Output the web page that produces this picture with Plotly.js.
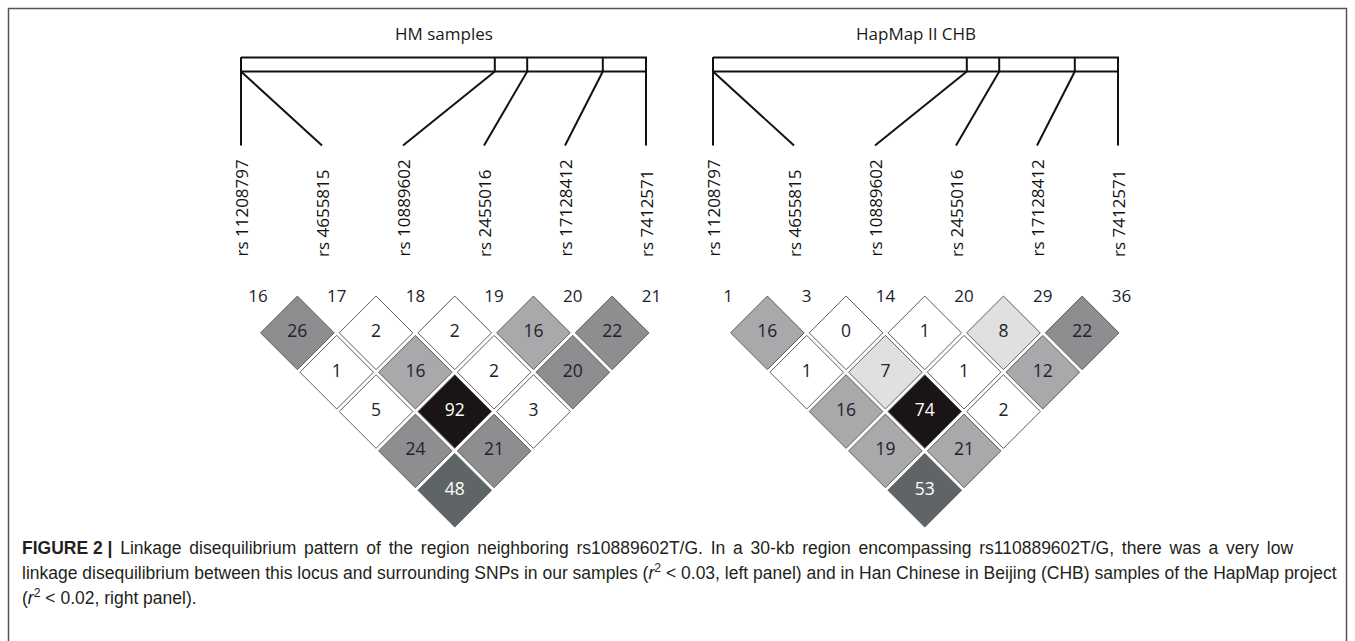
<!DOCTYPE html>
<html>
<head>
<meta charset="utf-8">
<script src="https://cdn.plot.ly/plotly-3.0.1.min.js"></script>
<style>
  html, body { margin: 0; padding: 0; background: #ffffff; }
  #chart { width: 1355px; height: 641px; }
</style>
</head>
<body>
<div id="chart"></div>
<script>
// ---- Data -------------------------------------------------------------
// SNPs in the 30-kb region around rs10889602, ordered by position
const snpIds = ['rs 11208797', 'rs 4655815', 'rs 10889602', 'rs 2455016', 'rs 17128412', 'rs 7412571'];
// physical position within the region, kb from the first SNP
const physPosKb = [0, 0, 18.8, 21.2, 26.8, 30.0];
// marker numbers printed above the LD triangle
const hmMarkerNums = [16, 17, 18, 19, 20, 21];
const chbMarkerNums = [1, 3, 14, 20, 29, 36];
// pairwise r^2 (x100); row d lists pairs (i, i+d) for i = 1..6-d
const hmR2 = [
  [26, 2, 2, 16, 22],
  [1, 16, 2, 20],
  [5, 92, 3],
  [24, 21],
  [48]
];
const chbR2 = [
  [16, 0, 1, 8, 22],
  [1, 7, 1, 12],
  [16, 74, 2],
  [19, 21],
  [53]
];
const panelTitles = ['HM samples', 'HapMap II CHB'];

// ---- Cell shading (Haploview-style grey bands) ------------------------
const SHADE = {
  white: '#ffffff', pale: '#e0e0e0', light: '#a9a9ab',
  mid: '#8e8e90', dark: '#5f6566', black: '#1b1416'
};
const hmShade = [
  ['mid', 'white', 'white', 'light', 'mid'],
  ['white', 'light', 'white', 'mid'],
  ['white', 'black', 'white'],
  ['mid', 'mid'],
  ['dark']
];
const chbShade = [
  ['light', 'white', 'white', 'pale', 'mid'],
  ['white', 'pale', 'white', 'light'],
  ['light', 'black', 'white'],
  ['light', 'light'],
  ['dark']
];

// ---- Page geometry ----------------------------------------------------
const W = 1355, H = 641;
const px = v => v / W;
const py = v => 1 - v / H;

const STEP = 78.7;        // px between neighbouring markers in the triangle
const ROW = STEP / 2;     // px per LD distance row
const TRI_TOP = 293.5;    // px of the triangle's top edge
const KB_PX = 13.5;       // px per kb on the physical-map bracket
const HDR = { title: 33, boxTop: 57.5, boxBot: 71.5, linkBot: 145.5, labelBot: 259 };
const CELL = 0.935;       // diamond size relative to its grid slot
const LABEL_FONT = 'Open Sans, Lato, sans-serif';

const panels = [
  { title: panelTitles[0], markers: hmMarkerNums, r2: hmR2, shade: hmShade,
    tx: 'x', hx: 'x2', firstMarkerPx: 258, mapLeftPx: 241 },
  { title: panelTitles[1], markers: chbMarkerNums, r2: chbR2, shade: chbShade,
    tx: 'x3', hx: 'x4', firstMarkerPx: 728, mapLeftPx: 713 }
];

const traces = [];
const annotations = [];
const layout = {
  width: W, height: H,
  margin: { l: 0, r: 0, t: 0, b: 0 },
  paper_bgcolor: '#ffffff',
  plot_bgcolor: 'rgba(0,0,0,0)',
  showlegend: false,
  hovermode: false,
  font: { family: LABEL_FONT, color: '#222222' }
};

const hiddenAxis = extra => Object.assign({
  visible: false, showgrid: false, zeroline: false, showticklabels: false, fixedrange: true
}, extra);

// shared vertical axes: y = LD distance rows, y2 = header rows (px)
layout.yaxis = hiddenAxis({ range: [6.5, -0.5], domain: [py(TRI_TOP + 6.5 * ROW), py(TRI_TOP - 0.5 * ROW)], anchor: 'x' });
layout.yaxis2 = hiddenAxis({ range: [H, 0], domain: [0, 1], anchor: 'x2' });

const nSnp = snpIds.length;
const spanKb = physPosKb[nSnp - 1] - physPosKb[0];
const lineStyle = { color: '#111111', width: 2 };

panels.forEach(p => {
  const txName = 'xaxis' + p.tx.slice(1);
  const hxName = 'xaxis' + p.hx.slice(1);
  // triangle axis: marker index 1..6
  layout[txName] = hiddenAxis({
    range: [0, 7],
    domain: [px(p.firstMarkerPx - STEP), px(p.firstMarkerPx + 6 * STEP)],
    anchor: 'y'
  });
  // header axis: kb
  layout[hxName] = hiddenAxis({
    range: [-2, spanKb + 2],
    domain: [px(p.mapLeftPx - 2 * KB_PX), px(p.mapLeftPx + (spanKb + 2) * KB_PX)],
    anchor: 'y2'
  });

  // --- physical map bracket
  const x0 = physPosKb[0], x1 = physPosKb[nSnp - 1];
  traces.push({
    type: 'scatter', mode: 'lines', xaxis: p.hx, yaxis: 'y2',
    x: [x0, x1, x1, x0, x0], y: [HDR.boxTop, HDR.boxTop, HDR.boxBot, HDR.boxBot, HDR.boxTop],
    line: lineStyle, hoverinfo: 'skip', cliponaxis: false
  });
  const dx = [], dy = [];
  physPosKb.forEach(pos => { dx.push(pos, pos, null); dy.push(HDR.boxTop, HDR.boxBot, null); });
  traces.push({
    type: 'scatter', mode: 'lines', xaxis: p.hx, yaxis: 'y2',
    x: dx, y: dy, line: lineStyle, hoverinfo: 'skip', cliponaxis: false
  });
  // connectors from map position to evenly spaced label slots
  const cx = [], cy = [];
  physPosKb.forEach((pos, k) => {
    const slot = x0 + k * spanKb / (nSnp - 1);
    cx.push(pos, slot, null); cy.push(HDR.boxBot, HDR.linkBot, null);
    annotations.push({
      xref: p.hx, yref: 'y2', x: slot, y: HDR.labelBot,
      text: snpIds[k], textangle: -90, showarrow: false,
      xanchor: 'center', yanchor: 'bottom',
      font: { family: LABEL_FONT, size: 17, color: '#111111' }
    });
  });
  traces.push({
    type: 'scatter', mode: 'lines', xaxis: p.hx, yaxis: 'y2',
    x: cx, y: cy, line: lineStyle, hoverinfo: 'skip', cliponaxis: false
  });
  annotations.push({
    xref: p.hx, yref: 'y2', x: (x0 + x1) / 2, y: HDR.title,
    text: p.title, showarrow: false, xanchor: 'center', yanchor: 'middle',
    font: { family: LABEL_FONT, size: 17, color: '#1a1a1a' }
  });

  // --- LD triangle cells
  const tx = [], ty = [], tt = [], tc = [];
  p.r2.forEach((row, di) => {
    const d = di + 1;
    row.forEach((val, k) => {
      const i = k + 1, j = i + d;
      const mx = (i + j) / 2, my = d;
      const hw = 0.5 * CELL, hh = 1 * CELL;
      const shadeKey = p.shade[di][k];
      traces.push({
        type: 'scatter', mode: 'lines', xaxis: p.tx, yaxis: 'y',
        x: [mx, mx + hw, mx, mx - hw, mx], y: [my - hh, my, my + hh, my, my - hh],
        fill: 'toself', fillcolor: SHADE[shadeKey],
        line: { color: '#5e5e5e', width: 1 }, hoverinfo: 'skip', cliponaxis: false
      });
      tx.push(mx); ty.push(my); tt.push(String(val));
      tc.push(shadeKey === 'black' || shadeKey === 'dark' ? '#ffffff' : '#22222c');
    });
  });
  traces.push({
    type: 'scatter', mode: 'text', xaxis: p.tx, yaxis: 'y',
    x: tx, y: ty, text: tt, textposition: 'middle center', cliponaxis: false,
    textfont: { family: LABEL_FONT, size: 17.5, color: tc }, hoverinfo: 'skip'
  });
  // marker numbers along the top edge
  traces.push({
    type: 'scatter', mode: 'text', xaxis: p.tx, yaxis: 'y',
    x: p.markers.map((_, k) => k + 1), y: p.markers.map(() => 0.12),
    text: p.markers.map(String), textposition: 'middle center', cliponaxis: false,
    textfont: { family: LABEL_FONT, size: 17, color: '#22222c' }, hoverinfo: 'skip'
  });
});

// ---- Caption ----------------------------------------------------------
// line 1 of the caption is set justified, so its word gaps are a little wider
const GAP = ' \u2006';
const captionLines = [
  '<b>FIGURE 2 |</b>' + GAP + ['Linkage', 'disequilibrium', 'pattern', 'of', 'the', 'region', 'neighboring',
    'rs10889602T/G.', 'In', 'a', '30-kb', 'region', 'encompassing', 'rs110889602T/G,', 'there', 'was',
    'a', 'very', 'low'].join(GAP),
  'linkage disequilibrium between this locus and surrounding SNPs in our samples (<i>r</i><sup>2</sup> &lt; 0.03, left panel) and in Han Chinese in Beijing (CHB) samples of the HapMap project',
  '(<i>r</i><sup>2</sup> &lt; 0.02, right panel).'
];
const captionY = [548, 572, 597];
captionLines.forEach((t, k) => {
  annotations.push({
    xref: 'paper', yref: 'paper', x: px(20), y: py(captionY[k]),
    xanchor: 'left', yanchor: 'middle', showarrow: false, text: t,
    font: { family: 'Liberation Sans, Arial, sans-serif', size: 17.5, color: '#231f20' }
  });
});
layout.annotations = annotations;

// ---- Figure frame (open at the bottom) --------------------------------
layout.shapes = [{
  type: 'path', xref: 'paper', yref: 'paper',
  path: `M ${px(8.5)} ${py(H + 5)} L ${px(8.5)} ${py(8.5)} L ${px(1346.5)} ${py(8.5)} L ${px(1346.5)} ${py(H + 5)}`,
  line: { color: '#555555', width: 1.5 }
}];

Plotly.newPlot('chart', traces, layout, { staticPlot: true, displayModeBar: false });
</script>
</body>
</html>
